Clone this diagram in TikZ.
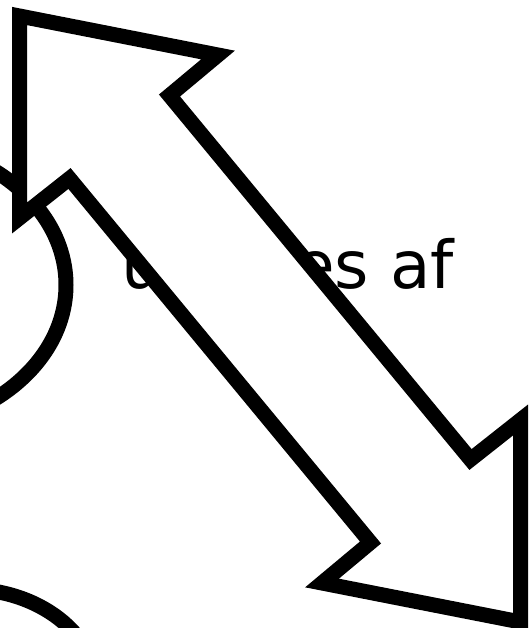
\documentclass[tikz,border=0pt]{standalone}
\usepackage{fontspec}
\setmainfont{DejaVu Sans}
\usetikzlibrary{shapes.geometric}
\begin{document}
\begin{tikzpicture}[x=1pt,y=-1pt,
  outline/.style={draw=black, line width=15pt, line join=miter, miter limit=10},
  ellbox/.style={ellipse, outline, inner sep=0pt, outer sep=0pt},
  lbltext/.style={font=\fontsize{66}{66}\selectfont, anchor=base west, inner sep=0pt}]
\useasboundingbox (0,0) rectangle (529,628);
\clip (0,0) rectangle (529,628);
\node[ellbox, minimum width=372pt, minimum height=290pt] (ellA) at (-120,285) {};
\node[ellbox, minimum width=260pt, minimum height=202pt] (ellB) at (-33,690) {};
\node[lbltext] (lbl) at (121,288) {udføres af};
\draw[outline, fill=white]
  (19.5,16) -- (218,55) -- (169.5,95.5) -- (470.5,459.5) -- (520.5,420)
  -- (520.5,622) -- (322,583) -- (370.5,542.5) -- (69.5,178.5) -- (19.5,218) -- cycle;
\end{tikzpicture}
\end{document}
